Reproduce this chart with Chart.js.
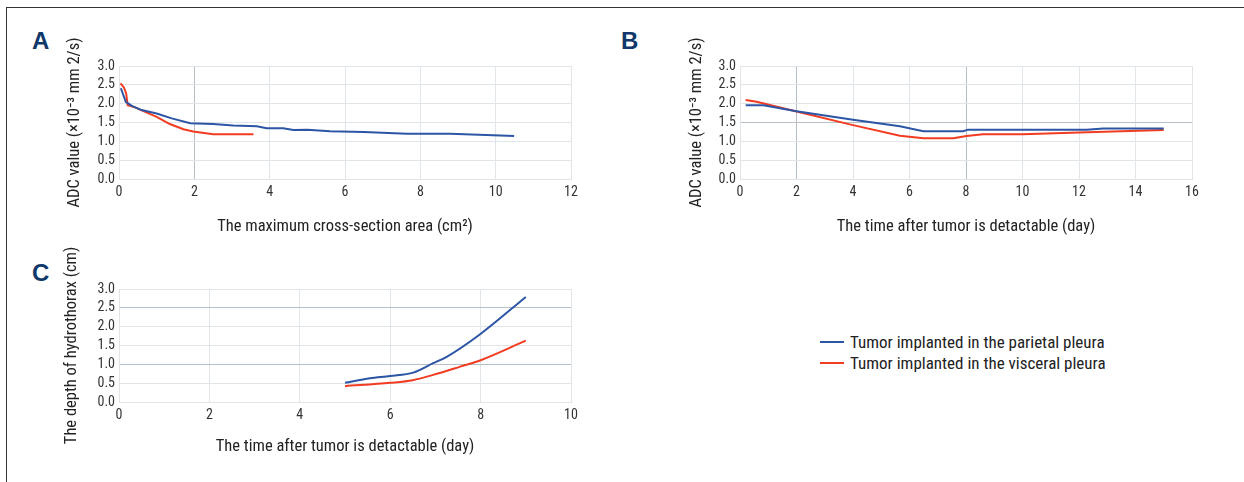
<!DOCTYPE html>
<html><head><meta charset="utf-8">
<script src="https://cdn.jsdelivr.net/npm/chart.js@4.4.1/dist/chart.umd.min.js"></script>
<style>
html,body{margin:0;padding:0;background:#fff;}
body{width:1244px;height:482px;position:relative;overflow:hidden;font-family:'Roboto Condensed','Open Sans',sans-serif;}
.frame{position:absolute;left:6px;top:7px;width:1400px;height:700px;border-left:1px solid #333;border-top:1px solid #333;}
canvas{position:absolute;}
.letter{position:absolute;font-family:'Liberation Sans','DejaVu Sans',sans-serif;font-weight:bold;font-size:24px;line-height:24px;color:#10386a;}
#legend{position:absolute;left:820px;top:331px;}
.li{display:flex;align-items:center;height:21px;font-size:17px;color:#222;white-space:nowrap;}
.sw{width:24px;height:2px;margin-right:6px;}
</style></head>
<body>
<div class="frame"></div>
<div class="letter" style="left:32px;top:29px;">A</div>
<div class="letter" style="left:621px;top:29px;">B</div>
<div class="letter" style="left:32px;top:261px;">C</div>
<canvas id="cA" width="600" height="230" style="left:0;top:20px;"></canvas>
<canvas id="cB" width="644" height="230" style="left:600px;top:20px;"></canvas>
<canvas id="cC" width="620" height="254" style="left:0;top:228px;"></canvas>
<div id="legend"></div>
<script>
// ---- data ----
const seriesNames = ['Tumor implanted in the parietal pleura', 'Tumor implanted in the visceral pleura'];

// Panel A: ADC vs maximum cross-section area
const aParietalX = [0.05,0.18,0.34,0.6,1.0,1.4,1.89,2.5,3.03,3.66,3.92,4.36,4.63,5.0,5.6,6.5,7.64,8.79,9.93,10.49];
const aParietalY = [2.41,2.05,1.94,1.83,1.74,1.61,1.48,1.46,1.42,1.40,1.35,1.35,1.30,1.31,1.27,1.25,1.20,1.20,1.16,1.14];
const aVisceralX = [0.04,0.13,0.19,0.23,0.38,0.65,1.0,1.35,1.71,1.97,2.5,3.57];
const aVisceralY = [2.54,2.43,2.27,1.96,1.92,1.80,1.65,1.46,1.32,1.26,1.19,1.19];

// Panel B: ADC vs time
const bParietalX = [0.2,0.83,2.0,4.0,5.66,6.49,7.9,8.07,12.27,12.86,15.0];
const bParietalY = [1.96,1.96,1.80,1.57,1.40,1.27,1.27,1.31,1.31,1.34,1.34];
const bVisceralX = [0.2,0.59,2.0,4.0,5.66,6.5,7.55,8.02,8.6,10.0,12.3,15.0];
const bVisceralY = [2.10,2.05,1.79,1.43,1.15,1.08,1.08,1.14,1.19,1.19,1.24,1.30];

// Panel C: depth of hydrothorax vs time
const cParietalX = [5.0,5.55,6.0,6.51,6.95,7.25,7.99,9.0];
const cParietalY = [0.51,0.63,0.69,0.78,1.03,1.20,1.80,2.79];
const cVisceralX = [5.0,6.0,6.5,6.95,7.55,8.0,9.0];
const cVisceralY = [0.42,0.51,0.58,0.72,0.94,1.11,1.63];

// tick labels
const yTicks = [0,0.5,1.0,1.5,2.0,2.5,3.0];
const aXTicks = [0,2,4,6,8,10,12];
const bXTicks = [0,2,4,6,8,10,12,14,16];
const cXTicks = [0,2,4,6,8,10];

const titles = {
  aX: 'The maximum cross-section area (cm\u00B2)',
  aY: 'ADC value (\u00D710\u207B\u00B3 mm 2/s)',
  bX: 'The time after tumor is detactable (day)',
  bY: 'ADC value (\u00D710\u207B\u00B3 mm 2/s)',
  cX: 'The time after tumor is detactable (day)',
  cY: 'The depth of hydrothorax (cm)'
};

// ---- styling ----
const BLUE = '#2c55a5', RED = '#f23c21';
const FAM = "'Roboto Condensed','Open Sans',sans-serif";
const GRID = '#e0e5e9', GRID_DARK = '#b7bfc6';

function pts(xs, ys){ return xs.map((x,i)=>({x:x, y:ys[i]})); }

function makeChart(id, p){
  const datasets = [
    {label: seriesNames[0], data: pts(p.x1,p.y1), borderColor: BLUE, backgroundColor: BLUE},
    {label: seriesNames[1], data: pts(p.x2,p.y2), borderColor: RED, backgroundColor: RED}
  ];
  datasets.forEach(d=>{ d.borderWidth=2; d.pointRadius=0; d.fill=false;
    if(p.smooth){ d.cubicInterpolationMode='monotone'; } else { d.tension=0; } });
  return new Chart(document.getElementById(id), {
    type:'line',
    data:{datasets},
    options:{
      responsive:false, animation:false, devicePixelRatio:1,
      layout:{padding:{top:p.padTop, right:p.padRight, left:0, bottom:0}},
      plugins:{legend:{display:false}, tooltip:{enabled:false}},
      scales:{
        x:{type:'linear', min:0, max:p.xTicks[p.xTicks.length-1],
          afterBuildTicks: s=>{ s.ticks = p.xTicks.map(v=>({value:v})); },
          afterFit: s=>{ s.height = p.xH; },
          grid:{drawTicks:false, lineWidth:1, color: c => (c.tick && p.xEmph.includes(c.tick.value)) ? GRID_DARK : GRID},
          border:{color:GRID},
          ticks:{padding:5, autoSkip:false, maxRotation:0, color:'#333', font:{family:FAM, size:14}, callback: v=>String(v)},
          title:{display:true, text:p.xTitle, color:'#222', font:{family:FAM, size:16.5, lineHeight:1.2}, padding:{top:0,bottom:p.xTitlePad}}
        },
        y:{type:'linear', min:0, max:3,
          afterBuildTicks: s=>{ s.ticks = yTicks.map(v=>({value:v})); },
          afterFit: s=>{ s.width = p.yW; },
          grid:{drawTicks:false, lineWidth:1, color: c => (c.tick && p.yEmph.includes(c.tick.value)) ? GRID_DARK : GRID},
          border:{color:GRID},
          ticks:{padding:4, autoSkip:false, color:'#333', font:{family:FAM, size:14}, callback: v=>Number(v).toFixed(1)},
          title:{display:true, text:p.yTitle, color:'#222', font:{family:FAM, size:16.5, lineHeight:1.2}, padding:{top:p.yTitlePad,bottom:0}}
        }
      }
    }
  });
}

const chartA = makeChart('cA', {x1:aParietalX,y1:aParietalY,x2:aVisceralX,y2:aVisceralY,
  xTicks:aXTicks, padTop:46, padRight:29, xH:71, yW:119, xEmph:[2], yEmph:[],
  xTitle:titles.aX, yTitle:titles.aY, xTitlePad:13, yTitlePad:65});
const chartB = makeChart('cB', {x1:bParietalX,y1:bParietalY,x2:bVisceralX,y2:bVisceralY,
  xTicks:bXTicks, padTop:46, padRight:52, xH:71, yW:140, xEmph:[2,8], yEmph:[1.5],
  xTitle:titles.bX, yTitle:titles.bY, xTitlePad:13, yTitlePad:87});
const chartC = makeChart('cC', {x1:cParietalX,y1:cParietalY,x2:cVisceralX,y2:cVisceralY, smooth:true,
  xTicks:cXTicks, padTop:61, padRight:49, xH:80, yW:119, xEmph:[], yEmph:[1.0,2.5],
  xTitle:titles.cX, yTitle:titles.cY, xTitlePad:25, yTitlePad:62});

// legend built from chart C's datasets
const leg = document.getElementById('legend');
chartC.data.datasets.forEach(d=>{
  const row = document.createElement('div'); row.className='li';
  const sw = document.createElement('span'); sw.className='sw'; sw.style.background=d.borderColor;
  const tx = document.createElement('span'); tx.textContent=d.label;
  row.appendChild(sw); row.appendChild(tx); leg.appendChild(row);
});
</script>
</body></html>
